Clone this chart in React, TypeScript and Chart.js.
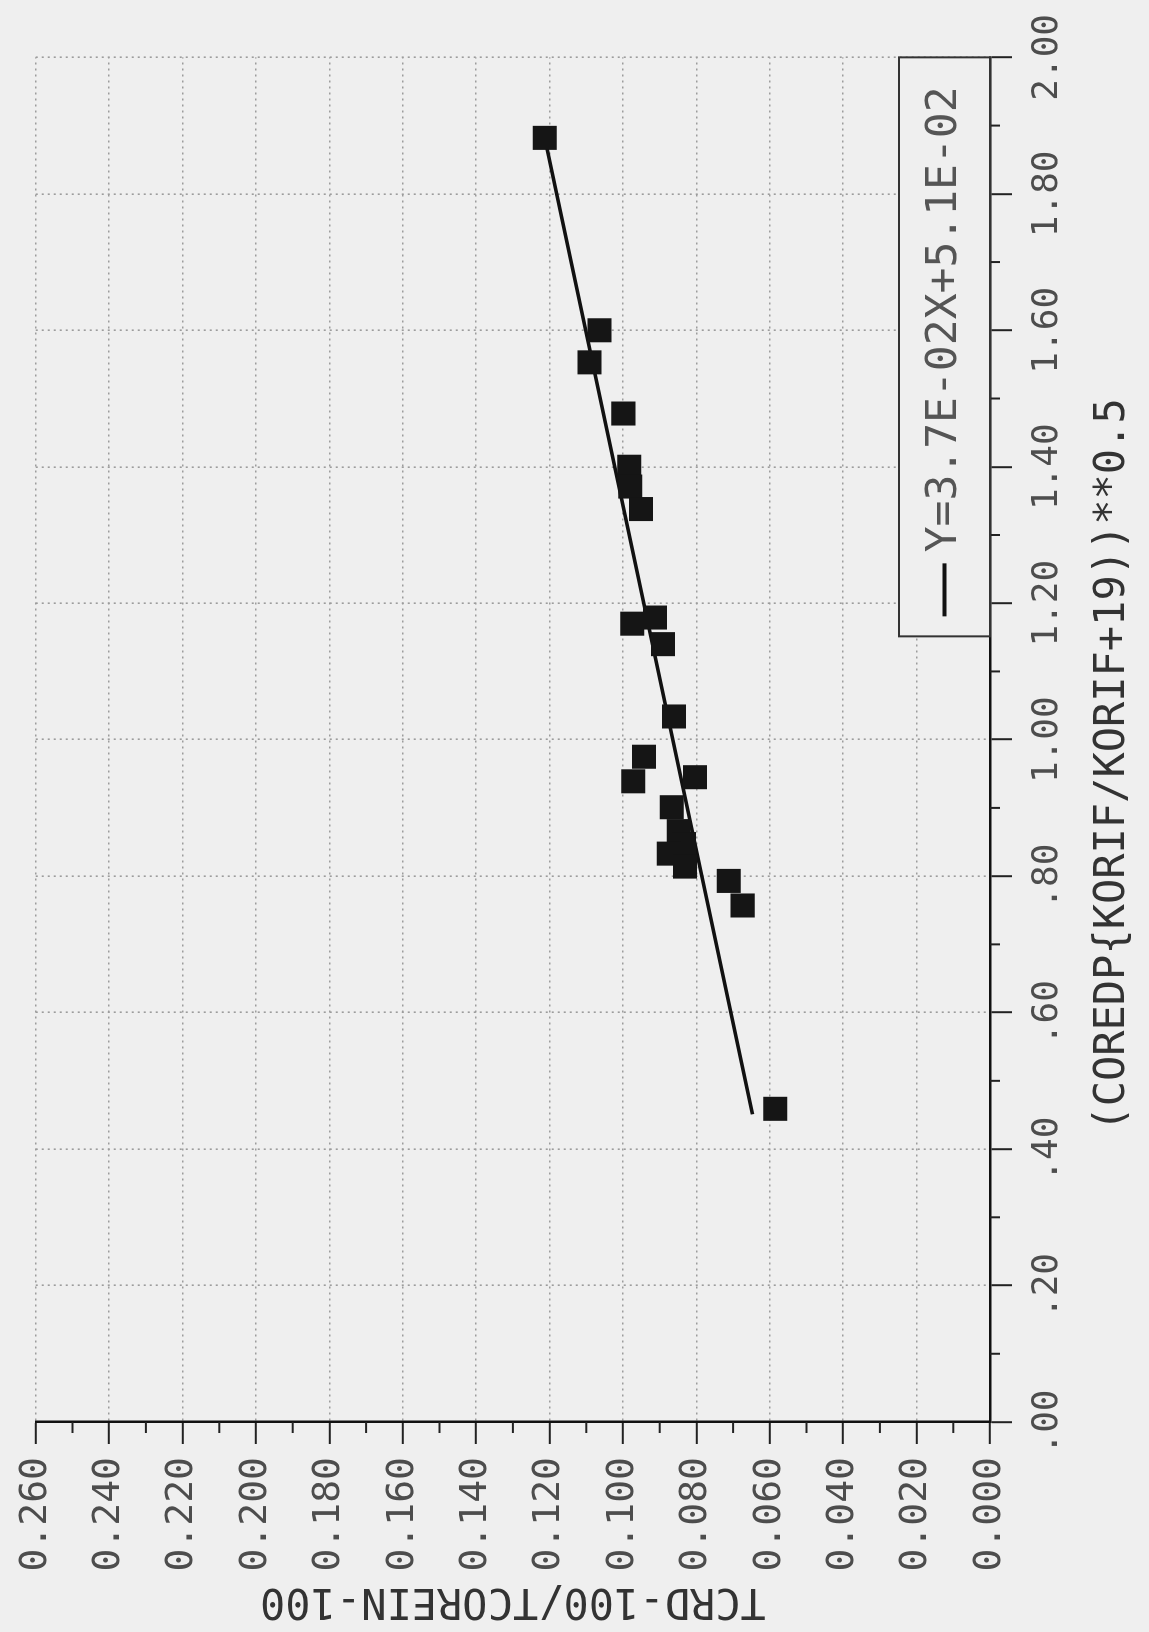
import React, { useEffect, useRef } from 'react';
import { Chart, registerables } from 'chart.js';

Chart.register(...registerables);

// ---- data ----
const coredpValues = [1.882, 1.600, 1.553, 1.478, 1.400, 1.371, 1.338, 1.170, 1.179, 1.140, 1.034, 0.975, 0.939, 0.945, 0.901, 0.866, 0.847, 0.833, 0.814, 0.793, 0.757, 0.459];
const tcrdValues = [0.1213, 0.1064, 0.1091, 0.0999, 0.0983, 0.0980, 0.0951, 0.0975, 0.0913, 0.0891, 0.0861, 0.0943, 0.0972, 0.0804, 0.0867, 0.0848, 0.0834, 0.0875, 0.0831, 0.0712, 0.0674, 0.0585];
const fitLineX = [0.451, 1.882];
const fitLineY = [0.0647, 0.1213];
const fitLabel = 'Y=3.7E-02X+5.1E-02';
const pointsLabel = 'Measured';

const xTickValues = [0, 0.2, 0.4, 0.6, 0.8, 1.0, 1.2, 1.4, 1.6, 1.8, 2.0];
const xTickLabels = ['.00', '.20', '.40', '.60', '.80', '1.00', '1.20', '1.40', '1.60', '1.80', '2.00'];
const xMinorTicks = [0.1, 0.3, 0.5, 0.7, 0.9, 1.1, 1.3, 1.5, 1.7, 1.9];
const yTickValues = [0, 0.02, 0.04, 0.06, 0.08, 0.10, 0.12, 0.14, 0.16, 0.18, 0.20, 0.22, 0.24, 0.26];
const yTickLabels = ['0.000', '0.020', '0.040', '0.060', '0.080', '0.100', '0.120', '0.140', '0.160', '0.180', '0.200', '0.220', '0.240', '0.260'];
const yMinorTicks = [0.01, 0.03, 0.05, 0.07, 0.09, 0.11, 0.13, 0.15, 0.17, 0.19, 0.21, 0.23, 0.25];

const xTitle = '(COREDP{KORIF/KORIF+19))**0.5  ';
const yTitle = 'TCRD-100/TCOREIN-100';

const MONO = "'DejaVu Sans Mono', 'Liberation Mono', monospace";
const BG = '#efefef';
const CW = 1632;
const CH = 1149;

const extrasPlugin = {
  id: 'extras',
  afterDatasetsDraw(chart: any) {
    const { ctx, chartArea, scales } = chart;
    const xs = scales.x;
    const ys = scales.y;
    ctx.save();
    // minor tick marks
    ctx.strokeStyle = '#222';
    ctx.lineWidth = 2;
    xMinorTicks.forEach((v) => {
      const px = xs.getPixelForValue(v);
      ctx.beginPath();
      ctx.moveTo(px, chartArea.bottom);
      ctx.lineTo(px, chartArea.bottom + 10);
      ctx.stroke();
    });
    yMinorTicks.forEach((v) => {
      const py = ys.getPixelForValue(v);
      ctx.beginPath();
      ctx.moveTo(chartArea.left, py);
      ctx.lineTo(chartArea.left - 11, py);
      ctx.stroke();
    });
    // boxed legend in the lower right corner of the plot
    const ds = chart.data.datasets[1];
    const w = 579;
    const h = 91;
    const x0 = chartArea.right - w;
    const y0 = chartArea.bottom - h;
    ctx.fillStyle = BG;
    ctx.fillRect(x0, y0, w, h);
    ctx.strokeStyle = '#333';
    ctx.lineWidth = 2;
    ctx.strokeRect(x0, y0, w, h);
    const cy = y0 + h / 2;
    ctx.strokeStyle = '#111';
    ctx.lineWidth = 4;
    ctx.beginPath();
    ctx.moveTo(x0 + 20, cy);
    ctx.lineTo(x0 + 73, cy);
    ctx.stroke();
    ctx.fillStyle = '#555';
    ctx.font = `43px ${MONO}`;
    ctx.textBaseline = 'middle';
    ctx.textAlign = 'left';
    ctx.fillText(ds.label, x0 + 84, cy);
    ctx.restore();
  },
};

export default function App() {
  const ref = useRef<HTMLCanvasElement | null>(null);

  useEffect(() => {
    if (!ref.current) return;
    const points = coredpValues.map((x, i) => ({ x, y: tcrdValues[i] }));
    const line = fitLineX.map((x, i) => ({ x, y: fitLineY[i] }));
    const chart = new Chart(ref.current, {
      type: 'scatter',
      data: {
        datasets: [
          {
            label: pointsLabel,
            data: points,
            pointStyle: 'rect',
            pointRadius: 17,
            backgroundColor: '#151515',
            borderColor: '#151515',
            borderWidth: 0,
            order: 0,
          },
          {
            label: fitLabel,
            data: line,
            showLine: true,
            borderColor: '#111',
            borderWidth: 3.5,
            pointRadius: 0,
            order: 1,
          } as any,
        ],
      },
      options: {
        animation: false,
        responsive: false,
        devicePixelRatio: 1,
        events: [],
        layout: { padding: { top: 30, right: 48, left: 0, bottom: 0 } },
        plugins: {
          legend: { display: false },
          tooltip: { enabled: false },
        },
        scales: {
          x: {
            type: 'linear',
            position: 'bottom',
            min: 0,
            max: 2,
            afterBuildTicks: (s: any) => {
              s.ticks = xTickValues.map((v) => ({ value: v }));
            },
            afterFit: (s: any) => {
              s.height = 159;
            },
            ticks: {
              autoSkip: false,
              maxRotation: 0,
              padding: 14,
              color: '#4d4d4d',
              font: { family: MONO, size: 36 },
              callback: (v: any) => {
                const i = xTickValues.indexOf(Number(v));
                return i >= 0 ? xTickLabels[i] : '';
              },
            },
            grid: {
              color: '#9c9c9c',
              lineWidth: 1.6,
              tickLength: 22,
              tickColor: '#222',
              tickWidth: 2,
            },
            border: { display: true, color: '#111', width: 2.5, dash: [2, 4] },
            title: {
              display: true,
              text: xTitle,
              color: '#333',
              font: { family: MONO, size: 42 },
              padding: { top: 2, bottom: 11 },
            },
          },
          y: {
            type: 'linear',
            position: 'left',
            min: 0,
            max: 0.26,
            afterBuildTicks: (s: any) => {
              s.ticks = yTickValues.map((v) => ({ value: v }));
            },
            afterFit: (s: any) => {
              s.width = 210;
            },
            ticks: {
              autoSkip: false,
              padding: 13,
              color: '#4d4d4d',
              font: { family: MONO, size: 38 },
              callback: (v: any) => {
                const i = yTickValues.findIndex((t) => Math.abs(t - Number(v)) < 1e-9);
                return i >= 0 ? yTickLabels[i] : '';
              },
            },
            grid: {
              color: '#9c9c9c',
              lineWidth: 1.6,
              tickLength: 22,
              tickColor: '#222',
              tickWidth: 2,
            },
            border: { display: true, color: '#111', width: 2.5, dash: [2, 4] },
            title: {
              display: true,
              text: yTitle,
              color: '#333',
              font: { family: MONO, size: 42 },
              padding: { top: 7, bottom: 4 },
            },
          },
        },
      },
      plugins: [extrasPlugin],
    } as any);
    return () => chart.destroy();
  }, []);

  return (
    <div
      style={{
        position: 'absolute',
        left: 0,
        top: 0,
        width: 1149,
        height: 1632,
        overflow: 'hidden',
        background: BG,
      }}
    >
      <div
        style={{
          position: 'absolute',
          left: 0,
          top: 0,
          width: CW,
          height: CH,
          transformOrigin: '0 0',
          transform: `translate(0px, ${CW}px) rotate(-90deg)`,
        }}
      >
        <canvas ref={ref} width={CW} height={CH} style={{ display: 'block', width: CW, height: CH }} />
      </div>
    </div>
  );
}
